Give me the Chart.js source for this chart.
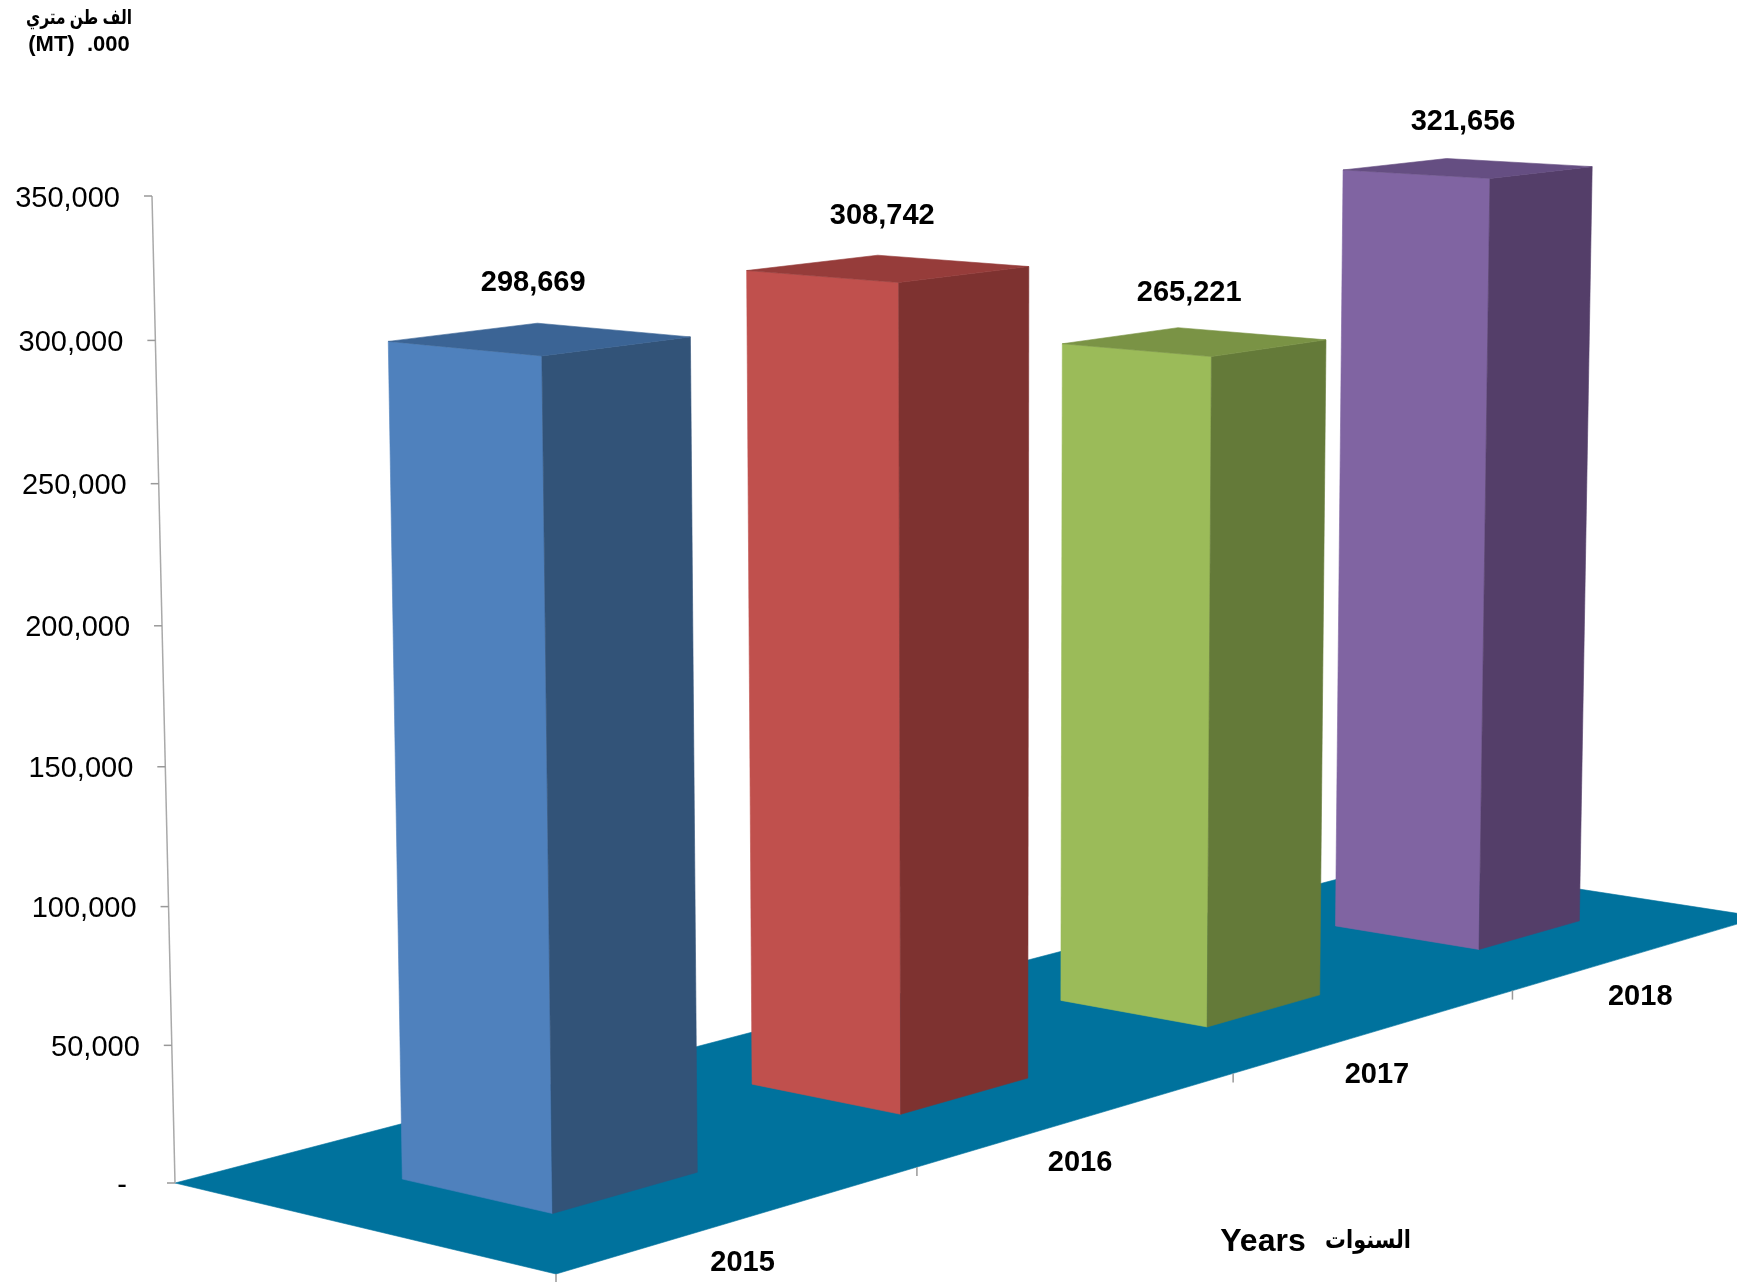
<!DOCTYPE html>
<html>
<head>
<meta charset="utf-8">
<style>
  html, body { margin: 0; padding: 0; background: #fff; overflow: hidden; }
  canvas { display: block; }
</style>
<script src="https://cdn.jsdelivr.net/npm/chart.js@4"></script>
</head>
<body>
<canvas id="myChart" width="1737" height="1282"></canvas>
<script>
const years = ['2015', '2016', '2017', '2018'];
const tonnes = [298669, 308742, 265221, 321656];
const frontColors = ['#4f81bd', '#c0504d', '#9bbb59', '#8064a2'];
const sideColors = ['#325378', '#7e3230', '#647a39', '#543e69'];
const topColors = ['#3b6495', '#963c3a', '#7a9345', '#654e82'];

// the corners of the floor and the top of the value axis, on the page
const front = [556, 1274], right = [1761, 917], back = [1403, 862], left = [175, 1183];
const axisTop = [152, 196];
const rise = -0.0294;
const barDepth = [0.295, 0.69];

// perspective camera: u along the years, v into the page, t up the value axis
const den = (right[0] - back[0]) * (left[1] - back[1]) - (left[0] - back[0]) * (right[1] - back[1]);
const sx = front[0] - right[0] + back[0] - left[0];
const sy = front[1] - right[1] + back[1] - left[1];
const g = (sx * (left[1] - back[1]) - (left[0] - back[0]) * sy) / den;
const h = ((right[0] - back[0]) * sy - sx * (right[1] - back[1])) / den;
const w0 = 1 + h;

function project(u, v, t) {
  const w = g * u + h * v + rise * t + 1;
  return [0, 1].map(i => {
    const a = right[i] - front[i] + g * right[i];
    const b = left[i] - front[i] + h * left[i];
    const c = axisTop[i] * (w0 + rise) - left[i] * w0;
    return (a * u + b * v + c * t + front[i]) / w;
  });
}

function face(ctx, pts, color) {
  ctx.beginPath();
  pts.forEach((p, i) => i ? ctx.lineTo(p[0], p[1]) : ctx.moveTo(p[0], p[1]));
  ctx.closePath();
  ctx.fillStyle = color;
  ctx.strokeStyle = color;
  ctx.lineWidth = 0.6;
  ctx.fill();
  ctx.stroke();
}

function line(ctx, a, b) {
  ctx.beginPath();
  ctx.moveTo(a[0], a[1]);
  ctx.lineTo(b[0], b[1]);
  ctx.stroke();
}

function label(ctx, text, x, y, font, align, maxWidth) {
  ctx.font = font;
  ctx.textAlign = align || 'center';
  ctx.textBaseline = 'middle';
  ctx.fillStyle = '#000';
  if (maxWidth) ctx.fillText(text, x, y, maxWidth);
  else ctx.fillText(text, x, y);
}

const prisms = {
  id: 'prisms',
  beforeDatasetsDraw(chart) {
    const ctx = chart.ctx;
    const area = chart.chartArea;
    const xs = chart.scales.x;
    const ys = chart.scales.y;
    const bold = "bold 29px 'Liberation Sans', Arial, sans-serif";
    const plain = "29px 'Liberation Sans', Arial, sans-serif";
    const toU = px => (px - area.left) / area.width;
    const toT = px => (area.bottom - px) / area.height;

    ctx.save();
    face(ctx, [project(0, 0, 0), project(1, 0, 0), project(1, 1, 0), project(0, 1, 0)], '#00729d');

    // value axis
    ctx.lineWidth = 1.5;
    ctx.strokeStyle = '#a9a9a9';
    line(ctx, project(0, 1, 0), project(0, 1, 1));
    ys.ticks.forEach(tick => {
      const p = project(0, 1, toT(ys.getPixelForValue(tick.value)));
      ctx.strokeStyle = '#999';
      line(ctx, [p[0] - 8, p[1]], p);
      label(ctx, tick.label, p[0] - 32, p[1] + 2.5, plain, 'right');
    });

    // year axis, ticks between the categories
    const step = xs.width / years.length;
    for (let i = 0; i < years.length; i++) {
      const p = project(i * step / xs.width, 0, 0);
      ctx.strokeStyle = '#999';
      line(ctx, p, [p[0], p[1] + 9]);
      const c = project(toU(xs.getPixelForValue(i)), 0, 0);
      label(ctx, years[i], c[0], c[1] + 44.5, bold);
    }

    // far bars first
    const bars = chart.getDatasetMeta(0).data;
    for (let i = bars.length - 1; i >= 0; i--) {
      const bar = bars[i].getProps(['x', 'y', 'width']);
      const u0 = toU(bar.x - bar.width / 2);
      const u1 = toU(bar.x + bar.width / 2);
      const t = toT(bar.y);
      const [v0, v1] = barDepth;
      face(ctx, [project(u0, v0, 0), project(u0, v1, 0), project(u0, v1, t), project(u0, v0, t)], frontColors[i]);
      face(ctx, [project(u0, v0, 0), project(u1, v0, 0), project(u1, v0, t), project(u0, v0, t)], sideColors[i]);
      face(ctx, [project(u0, v0, t), project(u1, v0, t), project(u1, v1, t), project(u0, v1, t)], topColors[i]);
      const top = project(toU(bar.x), 0.507, t + 0.058);
      label(ctx, tonnes[i].toLocaleString('en-US'), top[0], top[1] + 3, bold);
    }

    label(ctx, 'الف طن متري', 79, 18, "bold 20px 'Liberation Sans', 'DejaVu Sans', sans-serif", 'center', 106);
    label(ctx, '(MT)  .000', 79, 45, "bold 22px 'Liberation Sans', Arial, sans-serif");
    label(ctx, 'Years', 1263, 1242, "bold 32px 'Liberation Sans', Arial, sans-serif");
    label(ctx, 'السنوات', 1368, 1241, "bold 25px 'Liberation Sans', 'DejaVu Sans', sans-serif", 'center', 86);
    ctx.restore();
    return false;
  }
};

new Chart(document.getElementById('myChart'), {
  type: 'bar',
  data: {
    labels: years,
    datasets: [{ data: tonnes, backgroundColor: frontColors, barPercentage: 0.4, categoryPercentage: 1 }]
  },
  options: {
    responsive: false,
    animation: false,
    devicePixelRatio: 1,
    layout: { padding: 0 },
    plugins: { legend: { display: false }, tooltip: { enabled: false } },
    scales: {
      x: { display: false },
      y: {
        display: false,
        min: 0,
        max: 350000,
        ticks: {
          stepSize: 50000,
          callback: v => v === 0 ? '-  ' : v.toLocaleString('en-US')
        }
      }
    }
  },
  plugins: [prisms]
});
</script>
</body>
</html>
